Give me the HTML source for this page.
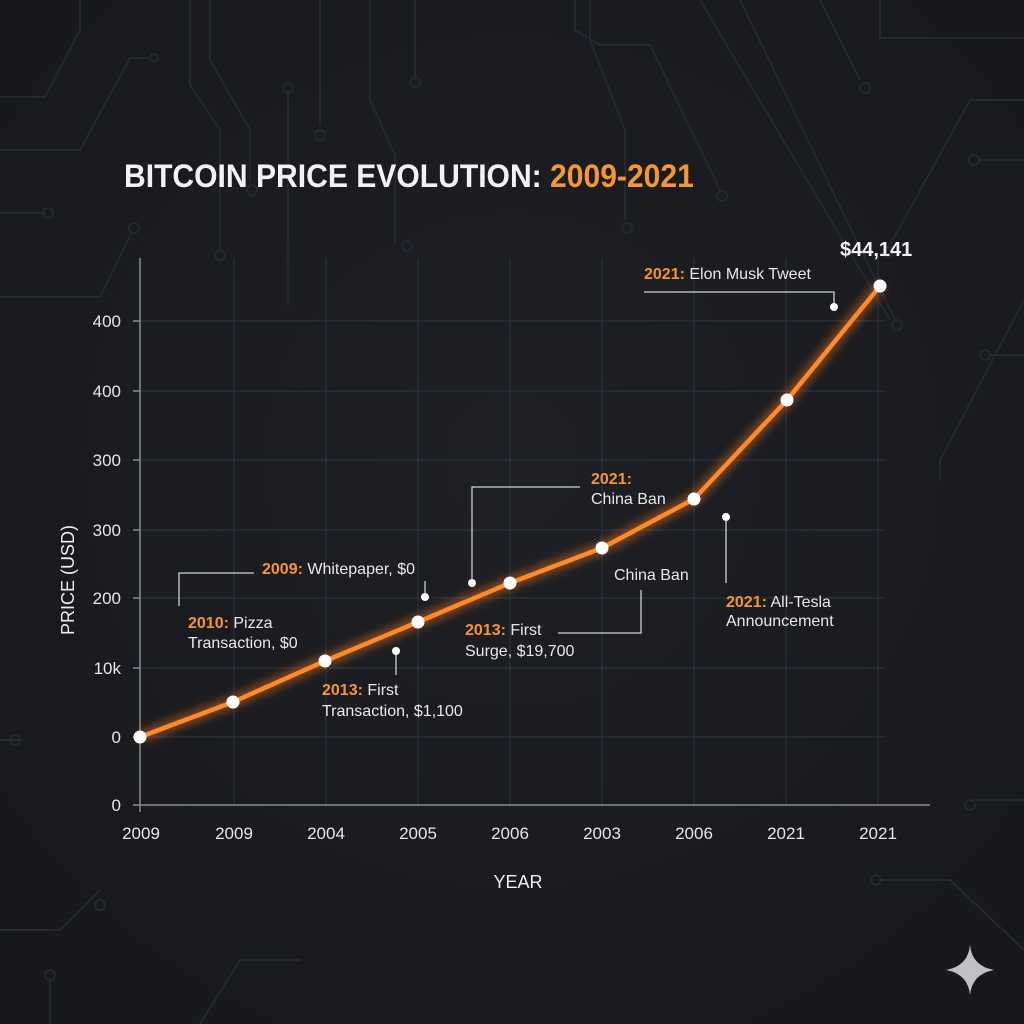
<!DOCTYPE html>
<html><head><meta charset="utf-8"><style>
html,body{margin:0;padding:0;background:#1b1d22;}
svg{display:block;}
text{font-family:"Liberation Sans","DejaVu Sans",sans-serif;}
</style></head><body>
<svg width="1024" height="1024" viewBox="0 0 1024 1024" xmlns="http://www.w3.org/2000/svg">
<defs>
<radialGradient id="bg" cx="50%" cy="45%" r="70%"><stop offset="0" stop-color="#1e2026"/><stop offset="1" stop-color="#17181c"/></radialGradient>
<filter id="glow" x="-20%" y="-20%" width="140%" height="140%"><feGaussianBlur stdDeviation="5"/></filter>
</defs>
<rect width="1024" height="1024" fill="url(#bg)"/>
<g stroke="#25282e" stroke-width="2" fill="none">
<path d="M0 97 H45 L80 30 V0"/><path d="M0 150 H80 L130 58 H150"/><circle cx="154" cy="58" r="4"/>
<path d="M0 213 H45"/><circle cx="48" cy="213" r="5"/><path d="M0 297 H100 L132 232"/><circle cx="134" cy="228" r="5"/>
<path d="M190 0 V85 L220 130 V250"/><circle cx="220" cy="255" r="5"/><path d="M210 0 V60 L250 130 V180"/><circle cx="252" cy="190" r="5"/>
<path d="M288 90 V305"/><circle cx="288" cy="88" r="5"/><path d="M320 0 V125"/><circle cx="320" cy="135" r="5"/>
<path d="M370 0 V100 L395 155 V245"/><circle cx="407" cy="246" r="5"/><path d="M415 0 V80"/><circle cx="415" cy="82" r="5"/>
<path d="M575 0 V30 L600 45 H650 L720 190"/><circle cx="722" cy="196" r="5"/><path d="M590 0 V40 L625 130 V220"/><circle cx="627" cy="228" r="5"/>
<path d="M700 0 L890 320"/><path d="M740 0 L895 320"/><circle cx="897" cy="325" r="5"/><path d="M820 0 L860 80"/><circle cx="865" cy="88" r="5"/>
<path d="M880 0 V38 H1024"/><path d="M1024 100 H970 L890 245"/><circle cx="888" cy="252" r="5"/><path d="M1024 160 H980"/><circle cx="974" cy="160" r="5"/>
<path d="M1024 300 L940 460 V480"/><path d="M0 740 H20"/><circle cx="15" cy="740" r="5"/><path d="M1024 800 H975"/><circle cx="970" cy="805" r="5"/>
<path d="M0 930 H60 L100 890"/><circle cx="100" cy="905" r="5"/><path d="M200 1024 L240 960 H300"/><path d="M1024 950 L950 880 H880"/><circle cx="876" cy="880" r="5"/>
<path d="M1024 355 H990"/><circle cx="985" cy="355" r="5"/><path d="M50 1024 V980"/><circle cx="50" cy="975" r="5"/>
</g>
<text x="124" y="187" font-size="32" font-weight="bold" fill="#f2f2f2" transform="translate(124 0) scale(0.94 1) translate(-124 0)">BITCOIN PRICE EVOLUTION: <tspan fill="#f5962e">2009-2021</tspan></text>
<g stroke="#2e3139" stroke-width="1.2">
<line x1="234" y1="258" x2="234" y2="805"/><line x1="326" y1="258" x2="326" y2="805"/><line x1="418" y1="258" x2="418" y2="805"/><line x1="510" y1="258" x2="510" y2="805"/><line x1="602" y1="258" x2="602" y2="805"/><line x1="694" y1="258" x2="694" y2="805"/><line x1="786" y1="258" x2="786" y2="805"/><line x1="878" y1="258" x2="878" y2="805"/>
<line x1="140" y1="321" x2="885" y2="321"/><line x1="140" y1="391" x2="885" y2="391"/><line x1="140" y1="460" x2="885" y2="460"/><line x1="140" y1="530" x2="885" y2="530"/><line x1="140" y1="598" x2="885" y2="598"/><line x1="140" y1="668" x2="885" y2="668"/><line x1="140" y1="737" x2="885" y2="737"/>
</g>
<g stroke="#8a8d94" stroke-width="1.5">
<line x1="140" y1="258" x2="140" y2="812"/><line x1="133" y1="805" x2="930" y2="805"/>
<line x1="133" y1="321" x2="140" y2="321"/><line x1="133" y1="391" x2="140" y2="391"/><line x1="133" y1="460" x2="140" y2="460"/><line x1="133" y1="530" x2="140" y2="530"/><line x1="133" y1="598" x2="140" y2="598"/><line x1="133" y1="668" x2="140" y2="668"/><line x1="133" y1="737" x2="140" y2="737"/>
</g>
<g font-size="17" fill="#e6e6e6" text-anchor="end">
<text x="121" y="327">400</text><text x="121" y="397">400</text><text x="121" y="466">300</text><text x="121" y="536">300</text><text x="121" y="604">200</text><text x="121" y="674">10k</text><text x="121" y="743">0</text><text x="121" y="811">0</text>
</g>
<g font-size="17" fill="#e6e6e6" text-anchor="middle">
<text x="141" y="839">2009</text><text x="234" y="839">2009</text><text x="326" y="839">2004</text><text x="418" y="839">2005</text><text x="510" y="839">2006</text><text x="602" y="839">2003</text><text x="694" y="839">2006</text><text x="786" y="839">2021</text><text x="878" y="839">2021</text>
</g>
<text x="518" y="888" font-size="18" fill="#eee" text-anchor="middle">YEAR</text>
<text transform="translate(74 580) rotate(-90)" font-size="18" fill="#eee" text-anchor="middle">PRICE (USD)</text>
<polyline points="140,737 233,702 325,661 418,622 510,583 602,548 694,499 787,400 880,286" fill="none" stroke="#ff7a1a" stroke-width="10" opacity="0.55" filter="url(#glow)"/>
<polyline points="140,737 233,702 325,661 418,622 510,583 602,548 694,499 787,400 880,286" fill="none" stroke="#ff8a2a" stroke-width="4.5" stroke-linejoin="round"/>
<g fill="#fff">
<circle cx="140" cy="737" r="6.5"/><circle cx="233" cy="702" r="6.5"/><circle cx="325" cy="661" r="6.5"/><circle cx="418" cy="622" r="6.5"/><circle cx="510" cy="583" r="6.5"/><circle cx="602" cy="548" r="6.5"/><circle cx="694" cy="499" r="6.5"/><circle cx="787" cy="400" r="6.5"/><circle cx="880" cy="286" r="6.5"/>
<circle cx="425" cy="597" r="4"/><circle cx="396" cy="651" r="4"/><circle cx="472" cy="583" r="4"/><circle cx="726" cy="517" r="4"/><circle cx="834" cy="307" r="4"/>
</g>
<g stroke="#cfd1d4" stroke-width="1.3" fill="none">
<polyline points="179,606 179,573 254,573"/><line x1="425" y1="581" x2="425" y2="593"/><line x1="396" y1="655" x2="396" y2="675"/>
<polyline points="472,580 472,487 580,487"/><polyline points="558,633 641,633 641,590"/><line x1="726" y1="520" x2="726" y2="583"/><polyline points="644,292 834,292 834,303"/>
</g>
<g font-size="16" fill="#e8e8e8">
<text x="262" y="574"><tspan fill="#f5962e" font-weight="bold">2009:</tspan> Whitepaper, $0</text>
<text x="188" y="628"><tspan fill="#f5962e" font-weight="bold">2010:</tspan> Pizza</text><text x="188" y="648">Transaction, $0</text>
<text x="322" y="695"><tspan fill="#f5962e" font-weight="bold">2013:</tspan> First</text><text x="322" y="716">Transaction, $1,100</text>
<text x="465" y="635"><tspan fill="#f5962e" font-weight="bold">2013:</tspan> First</text><text x="465" y="656">Surge, $19,700</text>
<text x="591" y="484" fill="#f5962e" font-weight="bold">2021:</text><text x="591" y="504">China Ban</text>
<text x="614" y="580">China Ban</text>
<text x="726" y="607"><tspan fill="#f5962e" font-weight="bold">2021:</tspan> All-Tesla</text><text x="726" y="626">Announcement</text>
<text x="644" y="279"><tspan fill="#f5962e" font-weight="bold">2021:</tspan> Elon Musk Tweet</text>
</g>
<text x="840" y="256" font-size="20" font-weight="bold" fill="#f2f2f2">$44,141</text>
<path d="M970 945 Q972 966 994 970 Q972 974 970 995 Q968 974 946 970 Q968 966 970 945Z" fill="#bfc1c5"/>
</svg>
</body></html>
